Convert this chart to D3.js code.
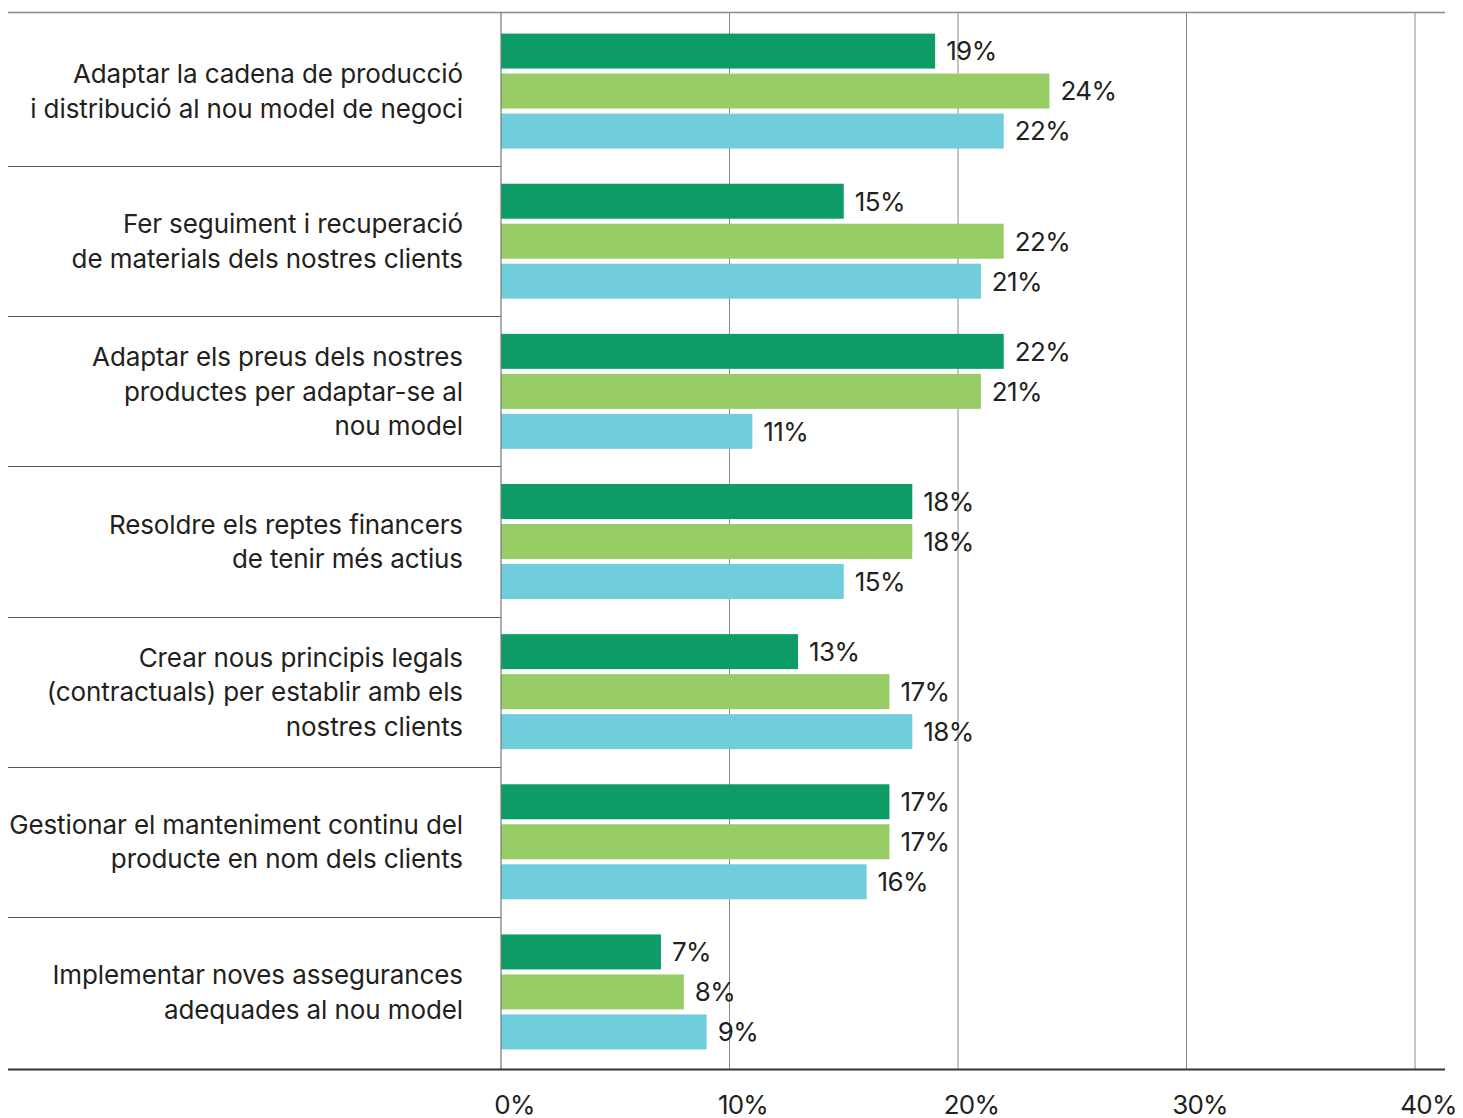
<!DOCTYPE html>
<html><head><meta charset="utf-8">
<script src="https://cdn.jsdelivr.net/npm/d3@7"></script>
<style>body{margin:0;background:#fff}svg{display:block}text{font-family:Inter,"Liberation Sans",Arial,sans-serif;fill:#231f20}</style>
</head><body>
<script>
const categories = [
  ["Adaptar la cadena de producció","i distribució al nou model de negoci"],
  ["Fer seguiment i recuperació","de materials dels nostres clients"],
  ["Adaptar els preus dels nostres","productes per adaptar-se al","nou model"],
  ["Resoldre els reptes financers","de tenir més actius"],
  ["Crear nous principis legals","(contractuals) per establir amb els","nostres clients"],
  ["Gestionar el manteniment continu del","producte en nom dels clients"],
  ["Implementar noves assegurances","adequades al nou model"]
];
const seriesNames = ["s1","s2","s3"];
const series1 = [19,15,22,18,13,17,7];
const series2 = [24,22,21,18,17,17,8];
const series3 = [22,21,11,15,18,16,9];
const tickValues = [0,10,20,30,40];
const tickLabels = ["0%","10%","20%","30%","40%"];
const colors = ["#0e9c66","#97cc66","#70cedc"];

const W=1463,H=1118;
const svg=d3.select("body").append("svg").attr("width",W).attr("height",H);
const x=d3.scaleLinear().domain([0,40]).range([501,1415]);
const y=d3.scaleBand().domain(d3.range(categories.length)).range([16,1067]).paddingInner(0).paddingOuter(0);
const yi=d3.scaleBand().domain(seriesNames).range([y.bandwidth()/2-57.5,y.bandwidth()/2+57.5]).paddingInner(5/40).paddingOuter(0);
const yTop=12,yBottom=1069;

// gridlines
svg.append("g").selectAll("line").data(tickValues.slice(1)).join("line")
  .attr("x1",d=>x(d)).attr("x2",d=>x(d)).attr("y1",yTop).attr("y2",yBottom)
  .attr("stroke","#8a8a8a").attr("stroke-width",1);

// separators
svg.append("g").selectAll("line").data(d3.range(1,categories.length)).join("line")
  .attr("x1",8).attr("x2",501).attr("y1",d=>Math.round(y(d))+0.5).attr("y2",d=>Math.round(y(d))+0.5)
  .attr("stroke","#555").attr("stroke-width",1.2);

const data=categories.map((c,i)=>({i,vals:[series1[i],series2[i],series3[i]]}));
const g=svg.append("g").selectAll("g").data(data).join("g").attr("transform",d=>`translate(0,${y(d.i)})`);
g.selectAll("rect").data(d=>d.vals.map((v,k)=>({v,k}))).join("rect")
  .attr("x",x(0)).attr("y",d=>yi(seriesNames[d.k])).attr("height",yi.bandwidth())
  .attr("width",d=>x(d.v)-x(0)).attr("fill",d=>colors[d.k]);
g.selectAll("text.v").data(d=>d.vals.map((v,k)=>({v,k}))).join("text").attr("class","v")
  .attr("x",d=>x(d.v)+11).attr("y",d=>yi(seriesNames[d.k])+yi.bandwidth()/2).attr("dy","0.36em")
  .attr("font-size",26).attr("letter-spacing",-0.6).text(d=>d.v+"%");

// category labels
svg.append("g").selectAll("text").data(data).join("text")
  .attr("text-anchor","end").attr("font-size",26).attr("letter-spacing",-0.1)
  .attr("transform",d=>`translate(463,${y(d.i)+y.bandwidth()/2})`)
  .each(function(d){
    const lines=categories[d.i], n=lines.length, lh=34.5;
    d3.select(this).selectAll("tspan").data(lines).join("tspan")
      .attr("x",0).attr("y",(l,k)=>(k-(n-1)/2)*lh).attr("dy","0.36em").text(l=>l);
  });

// frame lines
svg.append("line").attr("x1",8).attr("x2",1445).attr("y1",yTop+0.5).attr("y2",yTop+0.5).attr("stroke","#8a8a8a").attr("stroke-width",1.5);
svg.append("line").attr("x1",x(0)).attr("x2",x(0)).attr("y1",yTop).attr("y2",yBottom).attr("stroke","#777").attr("stroke-width",1.2);

// x axis
const ax=d3.axisBottom(x).tickValues(tickValues).tickFormat((d,i)=>tickLabels[i]).tickSize(0).tickPadding(0);
const axg=svg.append("g").attr("transform",`translate(0,${yBottom})`).call(ax);
axg.select(".domain").remove();
svg.append("line").attr("x1",8).attr("x2",1445).attr("y1",yBottom+0.5).attr("y2",yBottom+0.5).attr("stroke","#333").attr("stroke-width",1.8);
axg.selectAll("text").attr("font-size",26).attr("letter-spacing",-0.8).attr("font-family","Inter, Liberation Sans, Arial, sans-serif")
  .attr("fill","#231f20").attr("dx",13).attr("y",45).attr("dy",0);
</script>
</body></html>
